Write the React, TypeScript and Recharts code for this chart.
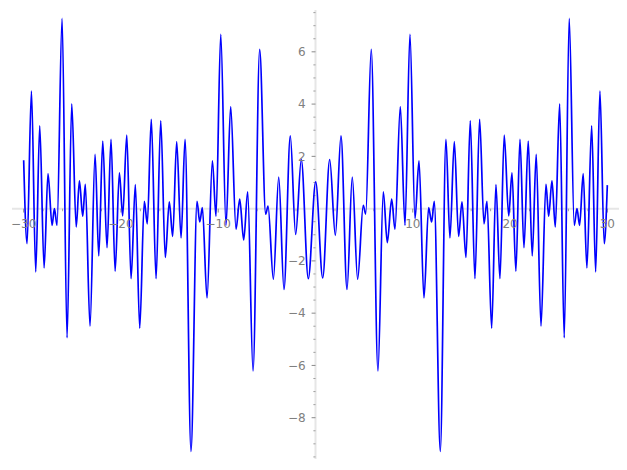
import { LineChart, Line, XAxis, YAxis, ReferenceLine } from 'recharts';

// x positions of the curve's turning points
const X_VALUES = [
  -30, -29.65, -29.2, -28.76, -28.35, -27.9, -27.5, -27.08, -26.84, -26.57,
  -26.05, -25.54, -25.06, -24.6, -24.27, -23.93, -23.66, -23.18, -22.66, -22.28,
  -21.87, -21.43, -21.02, -20.6, -20.16, -19.82, -19.4, -18.96, -18.52, -18.07,
  -17.6, -17.29, -16.88, -16.39, -15.91, -15.44, -15.03, -14.68, -14.27, -13.82,
  -13.41, -12.8, -12.18, -11.9, -11.63, -11.15, -10.6, -10.23, -9.74, -9.2,
  -8.72, -8.17, -7.79, -7.38, -6.97, -6.42, -5.74, -5.12, -4.88, -4.33,
  -3.78, -3.24, -2.59, -2.04, -1.46, -0.74, 0.02, 0.74, 1.46, 2.04,
  2.62, 3.24, 3.78, 4.33, 4.91, 5.16, 5.73, 6.42, 6.97, 7.38,
  7.83, 8.17, 8.72, 9.2, 9.71, 10.23, 10.64, 11.15, 11.63, 11.94,
  12.21, 12.83, 13.41, 13.82, 14.27, 14.71, 15.06, 15.47, 15.91, 16.39,
  16.87, 17.32, 17.63, 18.11, 18.55, 18.96, 19.4, 19.86, 20.2, 20.6,
  21.02, 21.43, 21.87, 22.28, 22.69, 23.18, 23.69, 23.97, 24.31, 24.65,
  25.1, 25.57, 26.08, 26.6, 26.88, 27.15, 27.52, 27.9, 28.39, 28.8,
  29.24, 29.68, 30,
];

const Y_VALUES = [
  1.85, -1.34, 4.5, -2.42, 3.17, -2.27, 1.34, -0.64, 0.0, -0.64,
  7.28, -4.94, 4.01, -0.7, 1.06, -0.29, 0.93, -4.49, 2.08, -1.81,
  2.58, -1.49, 2.65, -2.39, 1.37, -0.28, 2.81, -2.68, 0.92, -4.57,
  0.28, -0.58, 3.42, -2.68, 3.36, -1.87, 0.26, -1.06, 2.56, -1.12,
  2.65, -9.29, 0.28, -0.51, 0.04, -3.42, 1.83, -0.29, 6.67, -0.64,
  3.9, -0.79, 0.36, -1.2, 0.64, -6.21, 6.09, -0.21, 0.1, -2.7,
  1.21, -3.09, 2.78, -0.99, 1.88, -2.68, 1.02, -2.65, 1.88, -1.02,
  2.78, -3.09, 1.21, -2.7, 0.13, -0.21, 6.09, -6.21, 0.64, -1.3,
  0.36, -0.79, 3.9, -0.64, 6.67, -0.38, 1.83, -3.42, 0.04, -0.51,
  0.28, -9.29, 2.65, -1.12, 2.56, -1.06, 0.26, -1.87, 3.36, -2.68,
  3.42, -0.58, 0.28, -4.57, 0.92, -2.68, 2.81, -0.28, 1.37, -2.39,
  2.65, -1.49, 2.58, -1.81, 2.08, -4.49, 0.93, -0.29, 1.06, -0.7,
  4.01, -4.94, 7.28, -0.64, 0.0, -0.64, 1.34, -2.27, 3.17, -2.42,
  4.5, -1.34, 0.9,
];

const X_TICKS = [-30, -20, -10, 10, 20, 30];
const Y_TICKS = [-8, -6, -4, -2, 2, 4, 6];
const fmt = (v: number) => (v < 0 ? '\u2212' + Math.abs(v) : String(v));

const X_MINOR = Array.from({ length: 31 }, (_, i) => -30 + i * 2).filter((v) => v % 10 !== 0);
const Y_MINOR = Array.from({ length: 35 }, (_, i) => -9.5 + i * 0.5).filter(
  (v) => v !== 0 && !Y_TICKS.includes(v)
);

const data = X_VALUES.map((x, i) => ({ x, y: Y_VALUES[i] }));

const SPINE = '#e6e6e6';
const TICK = '#8a8a8a';
const LABEL = '#808080';
const FONT = 'DejaVu Sans, sans-serif';

export default function App() {
  return (
    <div style={{ position: 'absolute', left: 0, top: 0 }}>
      <LineChart
        width={627}
        height={470}
        data={data}
        margin={{ top: 10, right: 8, bottom: 11, left: 12 }}
        style={{ fontFamily: FONT }}
      >
        <XAxis type="number" dataKey="x" domain={[-31.2, 31.2]} hide allowDataOverflow />
        <YAxis type="number" domain={[-9.58, 7.6]} hide allowDataOverflow />
        <ReferenceLine y={0} stroke={SPINE} strokeWidth={2} />
        <ReferenceLine x={0} stroke={SPINE} strokeWidth={2} />
        {X_MINOR.map((v) => (
          <ReferenceLine
            key={'xm' + v}
            segment={[{ x: v, y: 0 }, { x: v, y: -0.1 }]}
            stroke={TICK}
            strokeWidth={0.8}
          />
        ))}
        {Y_MINOR.map((v) => (
          <ReferenceLine
            key={'ym' + v}
            segment={[{ x: -0.22, y: v }, { x: 0, y: v }]}
            stroke={TICK}
            strokeWidth={0.8}
          />
        ))}
        {X_TICKS.map((v) => (
          <ReferenceLine
            key={'xt' + v}
            segment={[{ x: v, y: 0 }, { x: v, y: -0.15 }]}
            stroke={TICK}
            strokeWidth={1}
            label={{ value: fmt(v), position: 'bottom', offset: 7, fill: LABEL, fontSize: 12, fontFamily: FONT }}
          />
        ))}
        {Y_TICKS.map((v) => (
          <ReferenceLine
            key={'yt' + v}
            segment={[{ x: -0.4, y: v }, { x: 0, y: v }]}
            stroke={TICK}
            strokeWidth={1}
            label={{ value: fmt(v), position: 'left', offset: 6, fill: LABEL, fontSize: 12, fontFamily: FONT }}
          />
        ))}
        <Line
          type="monotone"
          dataKey="y"
          stroke="#0000ff"
          strokeWidth={1.7}
          dot={false}
          activeDot={false}
          isAnimationActive={false}
        />
      </LineChart>
    </div>
  );
}
